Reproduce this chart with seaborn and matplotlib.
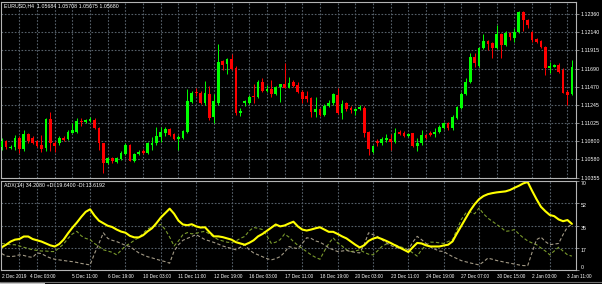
import numpy as np
import pandas as pd
import matplotlib
matplotlib.use("Agg")
import matplotlib.pyplot as plt
import seaborn as sns

# ---------------- data ----------------
open_ = [1.10723, 1.10797, 1.10711, 1.10729, 1.10840, 1.10704, 1.10889, 1.10840, 1.10797, 1.10754,
         1.10717, 1.11066, 1.10778, 1.10774, 1.10843, 1.10824, 1.10904, 1.10916, 1.11051, 1.11032,
         1.11048, 1.11060, 1.10965, 1.10774, 1.10536, 1.10590, 1.10548, 1.10578, 1.10643, 1.10754,
         1.10560, 1.10643, 1.10680, 1.10651, 1.10754, 1.10774, 1.10848, 1.10904, 1.10949, 1.10889,
         1.10827, 1.10836, 1.10916, 1.11284, 1.11407, 1.11395, 1.11264, 1.11379, 1.11093, 1.11264,
         1.11783, 1.11743, 1.11804, 1.11701, 1.11142, 1.11264, 1.11272, 1.11354, 1.11338, 1.11529,
         1.11420, 1.11440, 1.11379, 1.11468, 1.11497, 1.11456, 1.11526, 1.11489, 1.11407, 1.11354,
         1.11333, 1.11161, 1.11191, 1.11121, 1.11231, 1.11264, 1.11366, 1.11149, 1.11264, 1.11203,
         1.11174, 1.11191, 1.11211, 1.10913, 1.10671, 1.10803, 1.10782, 1.10815, 1.10827, 1.10794,
         1.10916, 1.10904, 1.10864, 1.10897, 1.10741, 1.10774, 1.10876, 1.10904, 1.10889, 1.10916,
         1.10965, 1.11019, 1.10958, 1.11081, 1.11203, 1.11379, 1.11529, 1.11836, 1.11722, 1.11939,
         1.12032, 1.12000, 1.11939, 1.12110, 1.11979, 1.12130, 1.12069, 1.12135, 1.12380, 1.12286,
         1.12135, 1.12049, 1.12032, 1.11958, 1.11694, 1.11713, 1.11734, 1.11673, 1.11407, 1.11379]
high = [1.10840, 1.10815, 1.10754, 1.10876, 1.10864, 1.10937, 1.10901, 1.10864, 1.10815, 1.10876,
        1.11085, 1.11164, 1.10803, 1.10864, 1.10864, 1.10937, 1.11027, 1.11085, 1.11085, 1.11072,
        1.11097, 1.11085, 1.10974, 1.10778, 1.10606, 1.10610, 1.10606, 1.10680, 1.10778, 1.10766,
        1.10655, 1.10692, 1.10704, 1.10790, 1.10848, 1.10970, 1.10977, 1.10974, 1.10962, 1.10901,
        1.10876, 1.10937, 1.11437, 1.11416, 1.11449, 1.11416, 1.11538, 1.11477, 1.11379, 1.11992,
        1.11795, 1.11824, 1.11865, 1.11722, 1.11203, 1.11305, 1.11366, 1.11497, 1.11550, 1.11578,
        1.11489, 1.11550, 1.11477, 1.11501, 1.11755, 1.11583, 1.11550, 1.11529, 1.11428, 1.11420,
        1.11342, 1.11346, 1.11207, 1.11256, 1.11305, 1.11395, 1.11449, 1.11305, 1.11284, 1.11231,
        1.11207, 1.11244, 1.11231, 1.10925, 1.10754, 1.10824, 1.10848, 1.10889, 1.10889, 1.10958,
        1.10937, 1.10929, 1.10901, 1.10901, 1.10836, 1.10937, 1.10889, 1.10925, 1.10958, 1.10998,
        1.11035, 1.11035, 1.11121, 1.11231, 1.11403, 1.11575, 1.11881, 1.11881, 1.11955, 1.12114,
        1.12041, 1.12016, 1.12224, 1.12126, 1.12151, 1.12139, 1.12188, 1.12390, 1.12390, 1.12298,
        1.12151, 1.12065, 1.12041, 1.11967, 1.11775, 1.11746, 1.11755, 1.11694, 1.11428, 1.11795]
low = [1.10692, 1.10704, 1.10704, 1.10692, 1.10655, 1.10680, 1.10778, 1.10766, 1.10729, 1.10667,
       1.10680, 1.10680, 1.10667, 1.10754, 1.10803, 1.10815, 1.10901, 1.10901, 1.10986, 1.11023,
       1.11035, 1.10949, 1.10692, 1.10410, 1.10520, 1.10532, 1.10532, 1.10569, 1.10631, 1.10557,
       1.10544, 1.10631, 1.10643, 1.10643, 1.10692, 1.10754, 1.10794, 1.10864, 1.10864, 1.10815,
       1.10692, 1.10827, 1.10897, 1.11268, 1.11354, 1.11256, 1.11244, 1.11060, 1.11027, 1.11244,
       1.11673, 1.11624, 1.11673, 1.11121, 1.11109, 1.11231, 1.11256, 1.11264, 1.11329, 1.11407,
       1.11407, 1.11346, 1.11366, 1.11284, 1.11449, 1.11449, 1.11465, 1.11387, 1.11264, 1.11284,
       1.11100, 1.11100, 1.11109, 1.11109, 1.11223, 1.11244, 1.11133, 1.11069, 1.11174, 1.11142,
       1.11121, 1.11182, 1.10848, 1.10631, 1.10655, 1.10741, 1.10754, 1.10794, 1.10692, 1.10782,
       1.10872, 1.10855, 1.10852, 1.10729, 1.10683, 1.10754, 1.10827, 1.10864, 1.10848, 1.10901,
       1.10949, 1.10937, 1.10937, 1.11072, 1.11195, 1.11366, 1.11513, 1.11710, 1.11710, 1.11930,
       1.11918, 1.11820, 1.11930, 1.11820, 1.11967, 1.12041, 1.12016, 1.12126, 1.12151, 1.12188,
       1.12020, 1.12004, 1.11943, 1.11612, 1.11640, 1.11706, 1.11632, 1.11387, 1.11244, 1.11366]
close = [1.10797, 1.10723, 1.10735, 1.10840, 1.10704, 1.10889, 1.10797, 1.10778, 1.10741, 1.10704,
         1.11066, 1.10778, 1.10741, 1.10843, 1.10815, 1.10916, 1.10937, 1.11051, 1.11032, 1.11060,
         1.11066, 1.10958, 1.10774, 1.10536, 1.10590, 1.10560, 1.10590, 1.10659, 1.10754, 1.10560,
         1.10639, 1.10671, 1.10651, 1.10774, 1.10782, 1.10864, 1.10916, 1.10949, 1.10876, 1.10827,
         1.10855, 1.10925, 1.11293, 1.11395, 1.11387, 1.11264, 1.11387, 1.11081, 1.11293, 1.11767,
         1.11734, 1.11804, 1.11681, 1.11142, 1.11174, 1.11293, 1.11346, 1.11338, 1.11529, 1.11420,
         1.11440, 1.11379, 1.11468, 1.11497, 1.11449, 1.11517, 1.11477, 1.11399, 1.11313, 1.11313,
         1.11161, 1.11191, 1.11121, 1.11235, 1.11272, 1.11375, 1.11149, 1.11252, 1.11191, 1.11182,
         1.11195, 1.11215, 1.10904, 1.10704, 1.10741, 1.10782, 1.10824, 1.10843, 1.10794, 1.10904,
         1.10889, 1.10867, 1.10889, 1.10741, 1.10782, 1.10876, 1.10836, 1.10876, 1.10916, 1.10977,
         1.11019, 1.10958, 1.11093, 1.11215, 1.11379, 1.11529, 1.11836, 1.11755, 1.11939, 1.12032,
         1.11988, 1.11939, 1.12110, 1.11979, 1.12130, 1.12074, 1.12142, 1.12380, 1.12286, 1.12224,
         1.12041, 1.12020, 1.11958, 1.11694, 1.11722, 1.11734, 1.11652, 1.11395, 1.11366, 1.11713]

adx = [18, 20, 22.5, 24, 24.5, 26.5, 26.5, 24.5, 23.5, 22.5,
       21, 19.5, 18.6, 20.5, 24, 29, 33.5, 37.5, 42, 46,
       48, 43, 39, 37, 35, 34, 32, 30.4, 29.5, 27,
       25.8, 25.8, 27.5, 30.5, 33, 37, 41.5, 45, 48.5, 44.5,
       39, 36, 35.4, 36.2, 34.5, 33.6, 33.8, 30, 26.6, 26.6,
       26, 25, 24, 22, 21, 20, 21.5, 23.5, 26.6, 28.5,
       31, 33.5, 36, 34.5, 35.2, 36.8, 38.2, 34.5, 32, 31.2,
       32, 33, 33.8, 32, 30.2, 30.2, 28.5, 26.6, 25, 22.5,
       20, 17.8, 19.5, 23, 24.8, 25.8, 24.5, 23, 21.4, 19.5,
       17.8, 16, 14.2, 18, 21.4, 21, 19.5, 18.6, 18.6, 18.6,
       19.4, 20, 22.6, 29, 35, 41, 47, 52, 56, 58.5,
       60, 60.8, 61.4, 61.8, 62.2, 63.3, 65, 66.6, 68.5, 69.6,
       62.6, 56, 50, 46.5, 43.5, 42.6, 40, 38.6, 39.5, 36.5]
plus_di = [21, 20.5, 20, 20, 19, 18, 17, 16, 15.5, 15,
           15, 14.6, 14.6, 17.5, 20.5, 25, 28.5, 30.6, 27, 25,
           24, 21, 18.5, 16, 15, 14, 12, 15.5, 19, 21,
           23.5, 25.6, 29, 32.5, 34, 35, 36, 32, 26, 19,
           23, 28, 29.6, 28.6, 29, 30, 30.6, 28.5, 26, 24,
           23, 22, 21.6, 23, 25, 26.6, 31, 33.6, 33, 32,
           27, 21, 22, 24, 28.5, 26, 22.6, 19.5, 17, 14.5,
           12, 10, 8.5, 15, 21, 25.4, 21.4, 19, 16, 14.6,
           15, 16, 14, 12.5, 12, 15, 18.6, 20.5, 21, 20,
           18.6, 17.5, 16, 13.5, 11, 16, 19.5, 22, 22, 21.5,
           21, 22.5, 24, 32, 40, 45, 46, 44.5, 49, 44.5,
           41, 38.5, 36, 33.5, 30.6, 31, 32, 28.5, 25.5, 23,
           21.4, 20, 17.4, 15, 12, 15, 18, 15, 12, 11]
minus_di = [13, 11, 10.6, 11, 12, 11.5, 10.5, 10, 13.5, 13,
            11, 9.5, 8.5, 8, 7.5, 7, 6.6, 6, 5.2, 4.6,
            4, 13, 21, 29.4, 25, 23.5, 22.5, 21, 19.5, 18.6,
            16, 13.6, 12, 10.5, 9.6, 8.5, 7.5, 6.6, 5.4, 15,
            20, 23.5, 25, 26.5, 28, 26, 24, 23, 21.8, 20.5,
            19, 18, 17, 16, 18, 20, 16, 13.5, 12, 10.5,
            9, 8, 9, 10.6, 14, 18.6, 17.5, 17, 21, 25.5,
            25, 23, 22, 20, 17.5, 16, 14.6, 15, 15.5, 14.5,
            14, 13.5, 20, 29.4, 28, 26.5, 24, 21.5, 19.5, 17.8,
            17.4, 16.5, 16, 22, 26.6, 24, 21, 18.5, 16.5, 15,
            14.6, 12.5, 10.6, 9, 7.4, 6.5, 5.6, 4.8, 4, 6.5,
            9.4, 8.5, 7.5, 6.8, 6, 5.4, 4.7, 4, 3.5, 3.4,
            14, 24, 26, 22.5, 20, 20.5, 21, 28, 34, 36]

price_ticks = [1.10355, 1.10580, 1.10800, 1.11025, 1.11245, 1.11470, 1.11690, 1.11915, 1.12140, 1.12360]
price_labels = ["1.10355", "1.10580", "1.10800", "1.11025", "1.11245", "1.11470", "1.11690", "1.11915", "1.12140", "1.12360"]
adx_ticks = [0, 17.6, 35.2, 52.8, 70.4]
adx_labels = ["0", "17", "35", "52", "70"]
time_labels = ["2 Dec 2019", "4 Dec 03:00", "5 Dec 11:00", "6 Dec 19:00", "10 Dec 03:00", "11 Dec 11:00",
               "12 Dec 19:00", "16 Dec 03:00", "17 Dec 11:00", "18 Dec 19:00", "20 Dec 03:00",
               "23 Dec 11:00", "24 Dec 19:00", "27 Dec 07:00", "30 Dec 15:00", "2 Jan 03:00", "3 Jan 11:00"]
time_label_bars = [0, 6.4, 16, 24, 32, 40, 48, 56, 64, 72, 80, 88, 96, 104, 112, 120, 128]
header_main = "EURUSD,H4  1.05684 1.05708 1.05675 1.05680"
header_adx = "ADX(14) 34.2080 +DI:19.6400 -DI:13.6192"

# ---------------- style ----------------
sns.set_style("dark")
plt.rcParams['font.family'] = ['Liberation Sans', 'DejaVu Sans']

W, H = 602, 284
fig = plt.figure(figsize=(W / 100, H / 100), dpi=100, facecolor='black')


def frac(x0, y0, x1, y1):
    return [x0 / W, 1 - y1 / H, (x1 - x0) / W, (y1 - y0) / H]


ax1 = fig.add_axes(frac(0.5, 2, 576, 178))
ax2 = fig.add_axes(frac(0.5, 181, 576, 270))

GRID = '#56606a'
FRAME = '#b4b4b4'
FS = 3.8
FSX = 3.45
xlim = (-0.27, 129.93)

o = np.array(open_)
h = np.array(high)
l = np.array(low)
c = np.array(close)
idx = np.arange(len(c))
up = c >= o
cols = np.where(up, '#00ff00', '#ff0000')

for ax in (ax1, ax2):
    ax.set_facecolor('black')
    ax.set_xlim(*xlim)
    for s in ax.spines.values():
        s.set_color(FRAME)
        s.set_linewidth(0.8)
    ax.set_xticks(np.arange(4, 130, 4), minor=True)
    ax.grid(which='minor', axis='x', color=GRID, linestyle=(0, (1.5, 1.5)), linewidth=0.8)
    ax.grid(which='major', axis='y', color=GRID, linestyle=(0, (1.5, 1.5)), linewidth=0.8)
    ax.grid(which='major', axis='x', visible=False)
    ax.tick_params(which='minor', length=0)
    ax.set_axisbelow(True)

# candles
ax1.vlines(idx, l, h, colors=cols, linewidth=0.7, zorder=2)
body_bottom = np.minimum(o, c)
body_h = np.maximum(np.abs(c - o), 0.00003)
ax1.bar(idx, body_h, bottom=body_bottom, width=0.62, color=cols, linewidth=0, zorder=3)
ax1.set_ylim(1.10349, 1.12506)
ax1.yaxis.tick_right()
ax1.set_yticks(price_ticks, price_labels)
ax1.tick_params(axis='y', length=2, width=0.5, color=FRAME, labelcolor='white', labelsize=FS, pad=1.5)
ax1.set_xticks([])

# ADX
df = pd.DataFrame({'bar': idx, 'ADX': adx, '+DI': plus_di, '-DI': minus_di})
sns.lineplot(data=df, x='bar', y='+DI', ax=ax2, color='#7a9a2c', linewidth=0.8, linestyle=(0, (3, 2)))
sns.lineplot(data=df, x='bar', y='-DI', ax=ax2, color='#a39a86', linewidth=0.8, linestyle=(0, (3, 2)))
sns.lineplot(data=df, x='bar', y='ADX', ax=ax2, color='#ffff00', linewidth=1.5)
ax2.set_xlim(*xlim)
ax2.set_ylim(0, 70.4)
ax2.set_xlabel('')
ax2.set_ylabel('')
ax2.yaxis.tick_right()
ax2.set_yticks(adx_ticks, adx_labels)
ax2.tick_params(axis='y', length=2, width=0.5, color=FRAME, labelcolor='white', labelsize=FS, pad=1.5)
for lab in ax2.get_yticklabels():
    lab.set_va('bottom' if lab.get_text() == '0' else 'top')
ax2.set_xticks(time_label_bars, time_labels)
ax2.tick_params(axis='x', length=2, width=0.5, color=FRAME, labelcolor='white', labelsize=FSX, pad=1)
for lab in ax2.get_xticklabels():
    lab.set_ha('left')

fig.text(3.5 / W, 1 - 6 / H, header_main, color='white', fontsize=FS, va='center', ha='left')
fig.text(3.5 / W, 1 - 185.5 / H, header_adx, color='white', fontsize=FS, va='center', ha='left')

# bottom tab strip
fig.add_artist(plt.Line2D([0, 1], [1 - 281.5 / H, 1 - 281.5 / H], color='#707070', linewidth=0.8))
fig.add_artist(plt.Rectangle((0, 0), 45 / W, 2.2 / H, color='#c8c8c8', linewidth=0))

fig.savefig('out.png', dpi=100, facecolor='black')
